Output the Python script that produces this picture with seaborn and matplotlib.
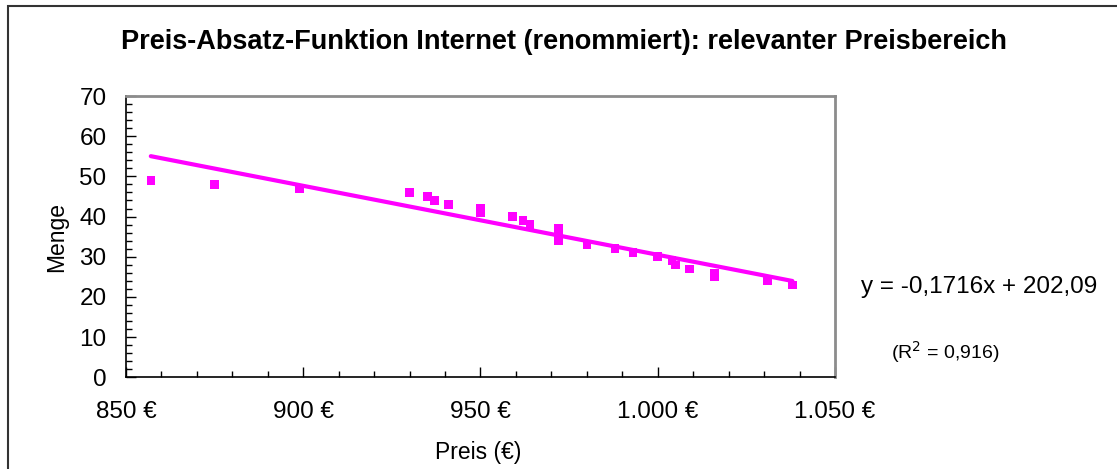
import matplotlib
matplotlib.use("Agg")
import matplotlib.pyplot as plt
import seaborn as sns
import pandas as pd
import numpy as np
from matplotlib.patches import Rectangle
from matplotlib.ticker import MultipleLocator, FixedLocator, FixedFormatter

# Observed price / quantity pairs
preis = [857, 875, 899, 930, 935, 937, 941, 950, 950, 959, 962, 964,
         972, 972, 972, 972, 980, 988, 993, 1000, 1004, 1005, 1009,
         1016, 1016, 1031, 1038]
menge = [49, 48, 47, 46, 45, 44, 43, 42, 41, 40, 39, 38,
         37, 36, 35, 34, 33, 32, 31, 30, 29, 28, 27,
         26, 25, 24, 23]

# Linear trend as stated in the equation label
steigung = -0.1716
achsenabschnitt = 202.09
r_quadrat = 0.916

x_ticks = [850, 900, 950, 1000, 1050]
x_tick_labels = ["850 €", "900 €", "950 €", "1.000 €", "1.050 €"]
y_ticks = [0, 10, 20, 30, 40, 50, 60, 70]


def de_zahl(wert, stellen):
    return f"{wert:.{stellen}f}".replace(".", ",")


sns.set_theme(style="white")
plt.rcParams["font.family"] = ["Liberation Sans", "DejaVu Sans"]

fig = plt.figure(figsize=(11.17, 4.69), dpi=100)
ax = fig.add_axes([0.1128, 0.1955, 0.7475 - 0.1128, 0.7953 - 0.1955])

df = pd.DataFrame({"Preis": preis, "Menge": menge})
sns.scatterplot(data=df, x="Preis", y="Menge", ax=ax, marker="s", s=38,
                color="#FF00FF", edgecolor="none", zorder=3)

trend_x = np.array([min(preis), max(preis)], dtype=float)
trend = pd.DataFrame({"Preis": trend_x, "Menge": steigung * trend_x + achsenabschnitt})
sns.lineplot(data=trend, x="Preis", y="Menge", ax=ax, color="#FF00FF",
             linewidth=3, zorder=2)

ax.set_xlim(850, 1050)
ax.set_ylim(0, 70)
ax.xaxis.set_major_locator(FixedLocator(x_ticks))
ax.xaxis.set_major_formatter(FixedFormatter(x_tick_labels))
ax.xaxis.set_minor_locator(MultipleLocator(10))
ax.yaxis.set_major_locator(FixedLocator(y_ticks))
ax.yaxis.set_minor_locator(MultipleLocator(2))

ax.tick_params(axis="both", which="major", direction="in", length=7, width=1,
               color="black", labelsize=17.5, labelcolor="black")
ax.tick_params(axis="x", which="major", pad=17)
ax.tick_params(axis="y", which="major", pad=14)
ax.tick_params(axis="both", which="minor", direction="in", length=4, width=1,
               color="black", bottom=True, left=True)
ax.tick_params(bottom=True, left=True)

for side in ("left", "bottom"):
    ax.spines[side].set_color("black")
    ax.spines[side].set_linewidth(1.2)
for side in ("top", "right"):
    ax.spines[side].set_color("#8c8c8c")
    ax.spines[side].set_linewidth(2)

ax.set_xlabel("")
ax.set_ylabel("")
ax.grid(False)

fig.text(0.5045, 0.910, "Preis-Absatz-Funktion Internet (renommiert): relevanter Preisbereich",
         ha="center", va="center", fontsize=19.5, fontweight="bold", color="black")
fig.text(0.051, 0.495, "Menge", rotation=90, ha="center", va="center",
         fontsize=16.5, color="black")
fig.text(0.428, 0.036, "Preis (€)", ha="center", va="center",
         fontsize=16.5, color="black")
fig.text(0.771, 0.388,
         f"y = {de_zahl(steigung, 4)}x + {de_zahl(achsenabschnitt, 2)}",
         ha="left", va="center", fontsize=17.5, color="black")
fig.text(0.798, 0.2495, "(R$^2$ = " + de_zahl(r_quadrat, 3) + ")",
         ha="left", va="center", fontsize=14, color="black")

# Chart frame, open towards the right and bottom edges
fig.patches.append(Rectangle((8 / 1117, -0.05), 1.2, 1 - 6 / 469 + 0.05,
                             transform=fig.transFigure, fill=False,
                             edgecolor="#333333", linewidth=1.5))

fig.savefig("out.png", dpi=100)
